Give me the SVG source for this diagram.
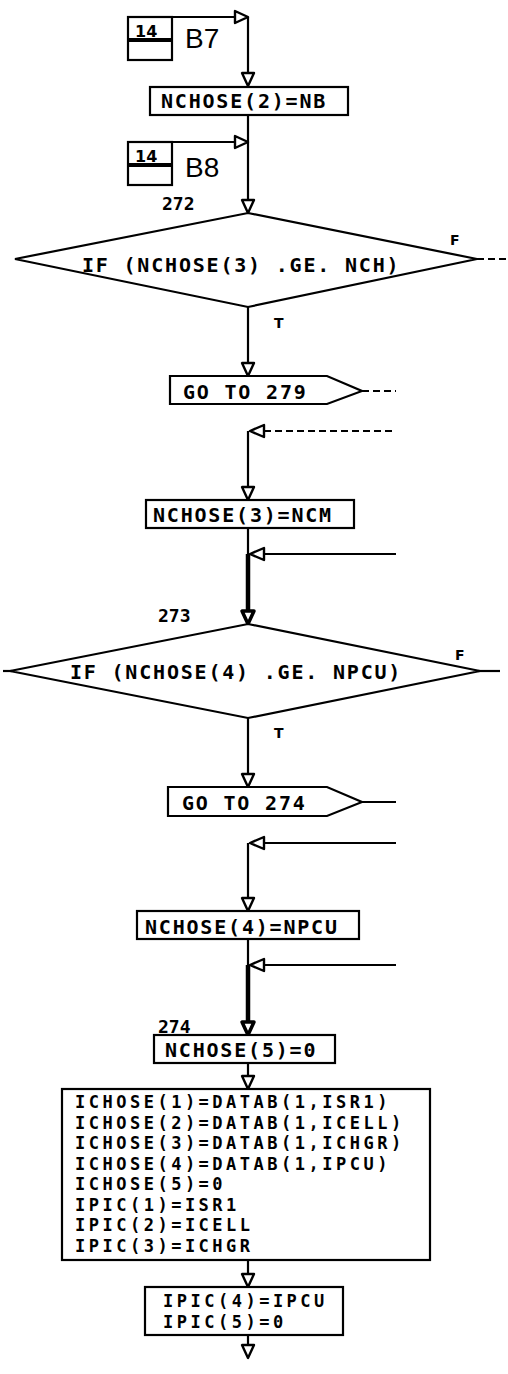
<svg xmlns="http://www.w3.org/2000/svg" width="508" height="1374" viewBox="0 0 508 1374">
<style>
.bg{fill:#fff}
.box{fill:#fff;stroke:#000;stroke-width:2.2}
.ln{fill:none;stroke:#000;stroke-width:2.2}
.thick{stroke-width:4.5}
.dash{stroke-dasharray:7 4}
.arr{fill:#fff;stroke:#000;stroke-width:2.4;stroke-linejoin:round}
.t{font-family:"DejaVu Sans Mono","Liberation Mono",monospace;font-weight:bold;font-size:20px;letter-spacing:1.8px;fill:#000}
.tm{font-family:"DejaVu Sans Mono","Liberation Mono",monospace;font-weight:bold;font-size:17px;letter-spacing:3.5px;fill:#000}
.num{font-family:"DejaVu Sans Mono","Liberation Mono",monospace;font-weight:bold;font-size:18px;fill:#000}
.tf{font-family:"DejaVu Sans","Liberation Sans",sans-serif;font-weight:bold;font-size:14px;fill:#000}
.big{font-family:"Liberation Sans",Arial,sans-serif;font-size:28px;fill:#000}
.pg{font-family:"DejaVu Sans","Liberation Sans",sans-serif;font-weight:bold;font-size:16px;fill:#000}
</style>
<rect class="bg" x="0" y="0" width="508" height="1374"/>

<g id="connectors">
  <line class="ln" x1="128" y1="17" x2="236" y2="17"/>
  <line class="ln" x1="248" y1="17" x2="248" y2="74"/>
  <polygon class="arr" points="235,11 235,23 248,17"/>
  <polygon class="arr" points="242,73 254,73 248,86"/>
  <line class="ln" x1="248" y1="115" x2="248" y2="200"/>
  <line class="ln" x1="172" y1="142" x2="236" y2="142"/>
  <polygon class="arr" points="235,136 235,148 248,142"/>
  <polygon class="arr" points="242,200 254,200 248,213"/>
  <line class="ln dash" x1="477" y1="259" x2="508" y2="259"/>
  <line class="ln" x1="248" y1="307" x2="248" y2="363"/>
  <polygon class="arr" points="242,363 254,363 248,376"/>
  <line class="ln dash" x1="362" y1="391" x2="396" y2="391"/>
  <line class="ln dash" x1="264" y1="431" x2="396" y2="431"/>
  <polygon class="arr" points="264,425 264,437 250,431"/>
  <line class="ln" x1="248" y1="431" x2="248" y2="487"/>
  <polygon class="arr" points="242,487 254,487 248,500"/>
  <line class="ln" x1="248" y1="528" x2="248" y2="554"/>
  <line class="ln" x1="264" y1="554" x2="396" y2="554"/>
  <polygon class="arr" points="264,548 264,560 250,554"/>
  <line class="ln thick" x1="248" y1="554" x2="248" y2="611"/>
  <polygon class="arr" style="stroke-width:3.5" points="242,611 254,611 248,624"/>
  <line class="ln" x1="3" y1="671" x2="12" y2="671"/>
  <line class="ln" x1="478" y1="671" x2="500" y2="671"/>
  <line class="ln" x1="248" y1="718" x2="248" y2="774"/>
  <polygon class="arr" points="242,774 254,774 248,787"/>
  <line class="ln" x1="362" y1="802" x2="396" y2="802"/>
  <line class="ln" x1="264" y1="843" x2="396" y2="843"/>
  <polygon class="arr" points="264,837 264,849 250,843"/>
  <line class="ln" x1="248" y1="843" x2="248" y2="898"/>
  <polygon class="arr" points="242,898 254,898 248,911"/>
  <line class="ln" x1="248" y1="939" x2="248" y2="965"/>
  <line class="ln" x1="264" y1="965" x2="396" y2="965"/>
  <polygon class="arr" points="264,959 264,971 250,965"/>
  <line class="ln thick" x1="248" y1="965" x2="248" y2="1022"/>
  <polygon class="arr" style="stroke-width:3.5" points="242,1022 254,1022 248,1035"/>
  <line class="ln" x1="248" y1="1063" x2="248" y2="1076"/>
  <polygon class="arr" points="242,1076 254,1076 248,1089"/>
  <line class="ln" x1="248" y1="1260" x2="248" y2="1274"/>
  <polygon class="arr" points="242,1274 254,1274 248,1287"/>
  <line class="ln" x1="248" y1="1335" x2="248" y2="1345"/>
  <polygon class="arr" points="242,1345 254,1345 248,1358"/>
</g>

<g id="B7">
  <rect class="box" x="128" y="17" width="44" height="43"/>
  <line class="ln" style="stroke-width:4" x1="128" y1="40" x2="172" y2="40"/>
  <text class="pg" x="135" y="37">14</text>
  <text class="big" x="185" y="48">B7</text>
</g>

<g id="n_nchose2">
  <rect class="box" x="150" y="87" width="198" height="28"/>
  <text class="t" x="161" y="108">NCHOSE(2)=NB</text>
</g>

<g id="B8">
  <rect class="box" x="128" y="142" width="44" height="43"/>
  <line class="ln" style="stroke-width:4" x1="128" y1="165" x2="172" y2="165"/>
  <text class="pg" x="135" y="162">14</text>
  <text class="big" x="185" y="177">B8</text>
</g>

<g id="d272">
  <text class="num" x="162" y="210">272</text>
  <polygon class="box" points="248,213 477,259 248,307 15,259"/>
  <text class="t" x="82" y="272">IF (NCHOSE(3) .GE. NCH)</text>
  <text class="tf" x="450" y="245">F</text>
  <text class="tf" x="274" y="328">T</text>
</g>

<g id="goto279">
  <polygon class="box" points="170,376 327,376 362,391 327,404 170,404"/>
  <text class="t" x="183" y="399">GO TO 279</text>
</g>

<g id="n_nchose3">
  <rect class="box" x="146" y="500" width="208" height="28"/>
  <text class="t" x="153" y="522">NCHOSE(3)=NCM</text>
</g>

<g id="d273">
  <text class="num" x="158" y="622">273</text>
  <polygon class="box" points="248,624 480,671 248,718 10,671"/>
  <text class="t" x="70" y="679">IF (NCHOSE(4) .GE. NPCU)</text>
  <text class="tf" x="455" y="660">F</text>
  <text class="tf" x="274" y="738">T</text>
</g>

<g id="goto274">
  <polygon class="box" points="168,787 327,787 362,802 327,816 168,816"/>
  <text class="t" x="182" y="810">GO TO 274</text>
</g>

<g id="n_nchose4">
  <rect class="box" x="137" y="911" width="222" height="28"/>
  <text class="t" x="145" y="934">NCHOSE(4)=NPCU</text>
</g>

<g id="n_nchose5">
  <text class="num" x="158" y="1033">274</text>
  <rect class="box" x="154" y="1035" width="181" height="28"/>
  <text class="t" x="165" y="1057">NCHOSE(5)=0</text>
</g>

<g id="n_assign">
  <rect class="box" x="62" y="1089" width="368" height="171"/>
  <text class="tm" x="75" y="1108">ICHOSE(1)=DATAB(1,ISR1)</text>
  <text class="tm" x="75" y="1128.5">ICHOSE(2)=DATAB(1,ICELL)</text>
  <text class="tm" x="75" y="1149">ICHOSE(3)=DATAB(1,ICHGR)</text>
  <text class="tm" x="75" y="1169.5">ICHOSE(4)=DATAB(1,IPCU)</text>
  <text class="tm" x="75" y="1190">ICHOSE(5)=0</text>
  <text class="tm" x="75" y="1210.5">IPIC(1)=ISR1</text>
  <text class="tm" x="75" y="1231">IPIC(2)=ICELL</text>
  <text class="tm" x="75" y="1251.5">IPIC(3)=ICHGR</text>
</g>

<g id="n_ipic">
  <rect class="box" x="145" y="1287" width="198" height="48"/>
  <text class="tm" x="163" y="1307">IPIC(4)=IPCU</text>
  <text class="tm" x="163" y="1328">IPIC(5)=0</text>
</g>
</svg>
